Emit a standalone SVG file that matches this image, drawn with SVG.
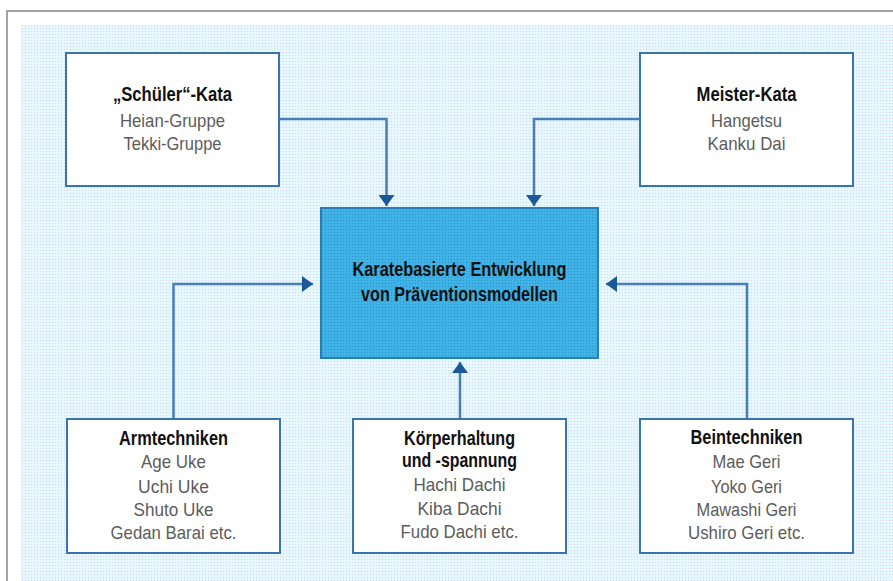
<svg xmlns="http://www.w3.org/2000/svg" width="893" height="581" viewBox="0 0 893 581">
<defs>
<pattern id="bgdots" width="3" height="3" patternUnits="userSpaceOnUse">
<rect width="3" height="3" fill="#e4f8fd"/>
<rect x="1" y="1" width="1" height="1" fill="#d9cfee"/>
</pattern>
<pattern id="bluedots" width="3" height="3" patternUnits="userSpaceOnUse">
<rect width="3" height="3" fill="#3fb2e6"/>
<rect x="1" y="1" width="1" height="1" fill="#2f8fc8"/>
</pattern>
<marker id="arr" viewBox="0 0 11 16" markerUnits="userSpaceOnUse" markerWidth="11" markerHeight="16" refX="11" refY="8" orient="auto">
<path d="M0,0 L11,8 L0,16 z" fill="#1a5898"/>
</marker>
</defs>
<style>
.box{fill:#ffffff;stroke:#3b72b0;stroke-width:2}
.center{fill:url(#bluedots);stroke:#2b7cb5;stroke-width:2}
.t{font-family:"Liberation Sans",Arial,sans-serif;font-weight:bold;font-size:20px;fill:#111;text-anchor:middle}
.s{font-family:"Liberation Sans",Arial,sans-serif;font-size:18.5px;fill:#5c5c5c;text-anchor:middle}
.c{fill:none;stroke:#4a7eb9;stroke-width:2.5;marker-end:url(#arr)}
</style>
<rect width="893" height="581" fill="#ffffff"/>
<path d="M7,581 V11 H893" fill="none" stroke="#a3a3a3" stroke-width="2"/>
<rect x="21" y="25" width="872" height="556" fill="url(#bgdots)"/>
<g id="connectors">
<path class="c" d="M279,119 H386.5 V206"/>
<path class="c" d="M640,119 H534 V206"/>
<path class="c" d="M173.5,419 V284 H313"/>
<path class="c" d="M747,419 V284 H606"/>
<path class="c" d="M460,419 V362"/>
</g>
<g id="schueler-kata">
<rect class="box" x="66" y="53" width="213" height="133"/>
<text class="t" x="172.5" y="101" textLength="119" lengthAdjust="spacingAndGlyphs">„Schüler“-Kata</text>
<text class="s" x="172.5" y="127" textLength="105" lengthAdjust="spacingAndGlyphs">Heian-Gruppe</text>
<text class="s" x="172.5" y="150" textLength="98" lengthAdjust="spacingAndGlyphs">Tekki-Gruppe</text>
</g>
<g id="meister-kata">
<rect class="box" x="640" y="53" width="213" height="133"/>
<text class="t" x="746.5" y="101" textLength="100" lengthAdjust="spacingAndGlyphs">Meister-Kata</text>
<text class="s" x="746.5" y="127" textLength="71" lengthAdjust="spacingAndGlyphs">Hangetsu</text>
<text class="s" x="746.5" y="150" textLength="78" lengthAdjust="spacingAndGlyphs">Kanku Dai</text>
</g>
<g id="center">
<rect class="center" x="321" y="208" width="277" height="150"/>
<text class="t" x="459.5" y="276" textLength="214" lengthAdjust="spacingAndGlyphs">Karatebasierte Entwicklung</text>
<text class="t" x="459.5" y="301" textLength="197" lengthAdjust="spacingAndGlyphs">von Präventionsmodellen</text>
</g>
<g id="armtechniken">
<rect class="box" x="67" y="419" width="213" height="134"/>
<text class="t" x="173.5" y="445" textLength="109" lengthAdjust="spacingAndGlyphs">Armtechniken</text>
<text class="s" x="173.5" y="468" textLength="65" lengthAdjust="spacingAndGlyphs">Age Uke</text>
<text class="s" x="173.5" y="493" textLength="71" lengthAdjust="spacingAndGlyphs">Uchi Uke</text>
<text class="s" x="173.5" y="516" textLength="80" lengthAdjust="spacingAndGlyphs">Shuto Uke</text>
<text class="s" x="173.5" y="539" textLength="126" lengthAdjust="spacingAndGlyphs">Gedan Barai etc.</text>
</g>
<g id="koerperhaltung">
<rect class="box" x="353" y="419" width="213" height="134"/>
<text class="t" x="459.5" y="445" textLength="111" lengthAdjust="spacingAndGlyphs">Körperhaltung</text>
<text class="t" x="459.5" y="467" textLength="115" lengthAdjust="spacingAndGlyphs">und -spannung</text>
<text class="s" x="459.5" y="491" textLength="92" lengthAdjust="spacingAndGlyphs">Hachi Dachi</text>
<text class="s" x="459.5" y="515" textLength="84" lengthAdjust="spacingAndGlyphs">Kiba Dachi</text>
<text class="s" x="459.5" y="538" textLength="118" lengthAdjust="spacingAndGlyphs">Fudo Dachi etc.</text>
</g>
<g id="beintechniken">
<rect class="box" x="640" y="419" width="213" height="134"/>
<text class="t" x="746.5" y="444" textLength="112" lengthAdjust="spacingAndGlyphs">Beintechniken</text>
<text class="s" x="746.5" y="468" textLength="68" lengthAdjust="spacingAndGlyphs">Mae Geri</text>
<text class="s" x="746.5" y="493" textLength="71" lengthAdjust="spacingAndGlyphs">Yoko Geri</text>
<text class="s" x="746.5" y="516" textLength="100" lengthAdjust="spacingAndGlyphs">Mawashi Geri</text>
<text class="s" x="746.5" y="539" textLength="117" lengthAdjust="spacingAndGlyphs">Ushiro Geri etc.</text>
</g>
</svg>
